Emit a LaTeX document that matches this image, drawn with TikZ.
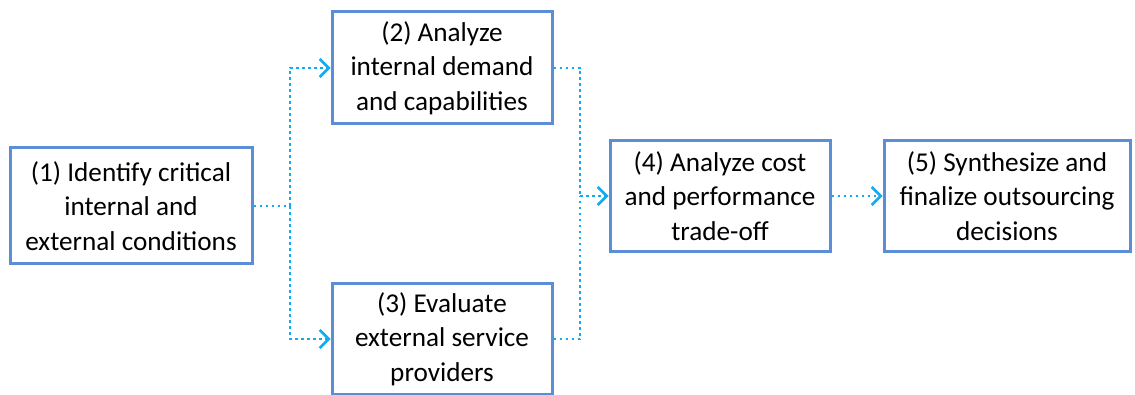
\documentclass[tikz,border=0pt]{standalone}
\usepackage{fontspec}
\setmainfont{Carlito}
\usetikzlibrary{arrows.meta}
\definecolor{boxblue}{HTML}{5B8ED6}
\definecolor{linkblue}{HTML}{12AAF0}
\tikzset{
  stepbox/.style={draw=boxblue,line width=1.5pt,align=center,inner sep=2pt,
    font=\fontsize{13.6pt}{17.2pt}\selectfont},
  link/.style={linkblue,line width=1.3pt,dash pattern=on 1.3pt off 1.7pt},
  tip/.style={-{Straight Barb[length=4.5pt,width=9pt,line width=1.3pt]}}
}
\begin{document}
\begin{tikzpicture}[x=0.5pt,y=-0.5pt]
    \useasboundingbox (0,0) rectangle (1135,395);
    \node[stepbox,minimum width=121pt,minimum height=58pt] (ident) at (131,206)
      {(1) Identify critical\\internal and\\external conditions};
    \node[stepbox,minimum width=110pt,minimum height=56pt] (demand) at (442,68)
      {(2) Analyze\\internal demand\\and capabilities};
    \node[stepbox,minimum width=110pt,minimum height=55pt] (providers) at (442,339)
      {(3) Evaluate\\external service\\providers};
    \node[stepbox,minimum width=110pt,minimum height=55.5pt] (tradeoff) at (720,196)
      {(4) Analyze cost\\and performance\\trade-off};
    \node[stepbox,minimum width=123pt,minimum height=55.5pt] (decide) at (1007,196)
      {(5) Synthesize and\\finalize outsourcing\\decisions};
    \coordinate (split) at (290,206);
    \coordinate (join) at (580,196);
    % branch out
    \draw[link] (ident.east) -- (split);
    \draw[link,tip] (split) |- (demand.west);
    \draw[link,tip] (split) |- (providers.west);
    % merge
    \draw[link] (demand.east) -| (join);
    \draw[link] (providers.east) -| (join);
    \draw[link,tip] (join) -- (tradeoff.west);
    \draw[link,tip] (tradeoff.east) -- (decide.west);
\end{tikzpicture}
\end{document}
